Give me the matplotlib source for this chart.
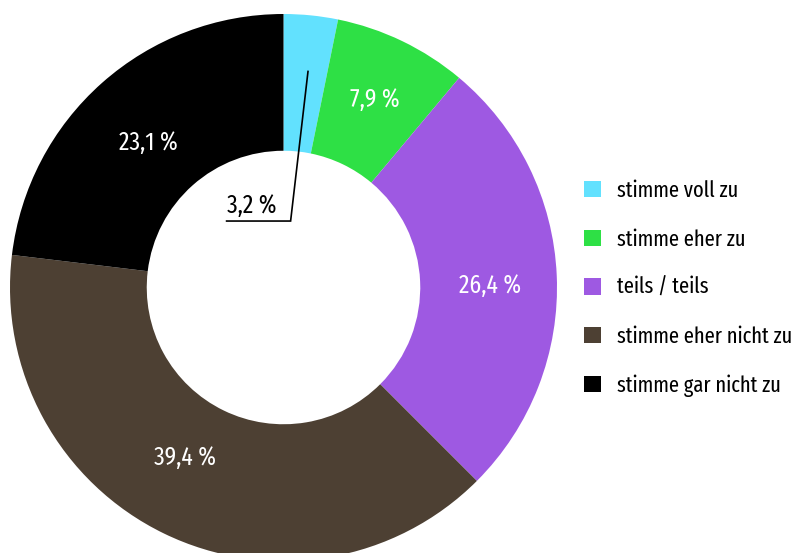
import matplotlib
matplotlib.use("Agg")
import numpy as np
import matplotlib.pyplot as plt
from matplotlib.patches import Patch

categories = ["stimme voll zu", "stimme eher zu", "teils / teils",
              "stimme eher nicht zu", "stimme gar nicht zu"]
values = [3.2, 7.9, 26.4, 39.4, 23.1]
colors = ["#62E1FE", "#2EE045", "#9E59E2", "#4D4033", "#000000"]

plt.rcParams["font.family"] = ["Fira Sans Extra Condensed", "DejaVu Sans"]

W, H = 796, 553
fig = plt.figure(figsize=(W / 100, H / 100), dpi=100)
# donut centre and outer radius in pixels
R = 273.5
cx, cy = 283.5, 287.5
ax = fig.add_axes([(cx - R) / W, (H - cy - R) / H, 2 * R / W, 2 * R / H])
ax.pie(values, colors=colors, startangle=90, counterclock=False,
       radius=1.0, wedgeprops=dict(width=0.5, linewidth=0))
ax.set_xlim(-1, 1)
ax.set_ylim(-1, 1)
ax.set_aspect("equal")
ax.axis("off")

# small per-label shifts (pixels, x right / y down) away from the ring centre line
label_nudge_px = [(0, 0), (1, -2.5), (0, 6), (-8, -17), (2, 9)]
label_r = 0.757

cum = np.cumsum([0] + values)
for i, v in enumerate(values):
    lab = f"{v:.1f}".replace(".", ",") + " %"
    mid = np.radians(90 - 360 * (cum[i] + v / 2) / 100)
    if i == 0:
        # narrow slice: label sits in the hole, joined by a leader line
        ax.plot([0.0896, 0.026, -0.208], [0.790, 0.243, 0.243], color="black",
                lw=1.2, solid_joinstyle="miter")
        ax.text(-0.115, 0.272, lab, ha="center", va="baseline", fontsize=18.5,
                color="black")
    else:
        dx, dy = label_nudge_px[i]
        x = label_r * np.cos(mid) + dx / R
        y = label_r * np.sin(mid) - (dy + 8.5) / R
        ax.text(x, y, lab, ha="center", va="baseline", fontsize=18.5, color="white")

handles = [Patch(facecolor=c, edgecolor="none") for c in colors]
fig.legend(handles, categories, loc="center left",
           bbox_to_anchor=(584 / W, 1 - 288.5 / H), frameon=False,
           fontsize=16, handlelength=0.75, handleheight=0.75,
           handletextpad=0.75, labelspacing=1.225, borderpad=0, borderaxespad=0)

fig.savefig("out.png", dpi=100)
